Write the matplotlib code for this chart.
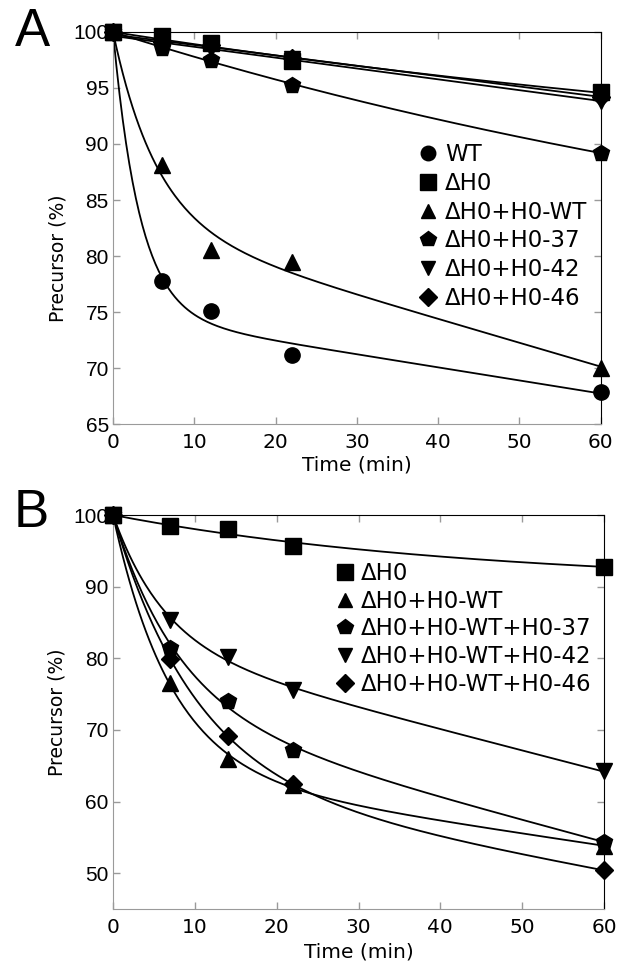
import numpy as np
import matplotlib.pyplot as plt

# Panel A data (time in min, precursor in %)
t_a = [0, 6, 12, 22, 60]
wt_a = [100, 77.8, 75.1, 71.2, 67.9]
dh0_a = [100, 99.6, 99.0, 97.4, 94.6]
h0wt_a = [100, 88.1, 80.5, 79.5, 70.0]
h037_a = [100, 98.6, 97.5, 95.3, 89.2]
h042_a = [100, 98.9, 98.6, 97.6, 93.8]
h046_a = [100, 99.1, 98.8, 97.7, 94.2]
labels_a = ['WT', 'ΔH0', 'ΔH0+H0-WT', 'ΔH0+H0-37', 'ΔH0+H0-42', 'ΔH0+H0-46']

# Panel B data
t_b = [0, 7, 14, 22, 60]
dh0_b = [100, 98.5, 98.0, 95.7, 92.8]
h0wt_b = [100, 76.6, 66.0, 62.3, 53.8]
h037_b = [100, 81.5, 74.1, 67.2, 54.4]
h042_b = [100, 85.4, 80.2, 75.6, 64.2]
h046_b = [100, 79.9, 69.1, 62.4, 50.4]
labels_b = ['ΔH0', 'ΔH0+H0-WT', 'ΔH0+H0-WT+H0-37', 'ΔH0+H0-WT+H0-42', 'ΔH0+H0-WT+H0-46']


def fit_curve(t, y):
    # least squares fit of y = 100 - A(1-exp(-k t)) - C t
    t = np.asarray(t, float)
    d = np.asarray(y, float) - 100
    best_sse, best = np.inf, None
    for k in np.logspace(-2.5, 1, 400):
        X = np.column_stack([-(1 - np.exp(-k * t)), -t])
        coef = np.linalg.lstsq(X, d, rcond=None)[0]
        if coef.min() < 0:
            continue
        sse = ((X @ coef - d) ** 2).sum()
        if sse < best_sse:
            best_sse, best = sse, (k, coef)
    if best is None:
        c = (d @ -t) / (t @ t)
        best = (1.0, np.array([0.0, c]))
    k, (a, c) = best
    tt = np.linspace(0, t.max(), 300)
    return tt, 100 - a * (1 - np.exp(-k * tt)) - c * tt


def style_axes(ax):
    for s in ['left', 'bottom']:
        ax.spines[s].set_color('#9a9a9a')
    for s in ['top', 'right']:
        ax.spines[s].set_color('black')
    ax.tick_params(direction='in', length=5, width=1, color='#9a9a9a',
                   top=True, right=True, pad=3)
    ax.tick_params(axis='x', labelsize=14.5, pad=6.5)
    ax.tick_params(axis='y', labelsize=15)
    for lab in ax.get_yticklabels():
        lab.set_family('Liberation Sans')
    ax.set_xlim(0, 60)
    ax.set_xticks(range(0, 61, 10))


fig = plt.figure(figsize=(6.44, 9.69), dpi=100)

# ---- Panel A ----
axA = fig.add_axes([0.1755, 0.5624, 0.757, 0.4046])
markers_a = ['o', 's', '^', 'p', 'v', 'D']
sizes_a = [11, 12, 11, 12, 11, 9.5]
series_a = [wt_a, dh0_a, h0wt_a, h037_a, h042_a, h046_a]
for y, m, ms, lab in zip(series_a, markers_a, sizes_a, labels_a):
    tt, yy = fit_curve(t_a, y)
    axA.plot(tt, yy, color='black', lw=1.3)
    axA.plot(t_a, y, linestyle='none', marker=m, ms=ms, color='black',
             label=lab, clip_on=False, zorder=3)
axA.set_ylim(65, 100)
axA.set_yticks(range(65, 101, 5))
style_axes(axA)
axA.set_xlabel('Time (min)', fontsize=14.5, labelpad=2.5)
axA.set_ylabel('Precursor (%)', fontsize=13.5)
axA.yaxis.set_label_coords(-0.094, 0.423)
axA.legend(loc='upper left', bbox_to_anchor=(0.627, 0.717), frameon=False,
           fontsize=16.5, handlelength=0.8, handletextpad=0.35,
           labelspacing=0.255, borderpad=0, borderaxespad=0, markerscale=0.95)

# ---- Panel B ----
axB = fig.add_axes([0.1755, 0.0619, 0.7624, 0.4066])
markers_b = ['s', '^', 'p', 'v', 'D']
sizes_b = [12, 11, 12, 11, 9.5]
series_b = [dh0_b, h0wt_b, h037_b, h042_b, h046_b]
for y, m, ms, lab in zip(series_b, markers_b, sizes_b, labels_b):
    tt, yy = fit_curve(t_b, y)
    axB.plot(tt, yy, color='black', lw=1.3)
    axB.plot(t_b, y, linestyle='none', marker=m, ms=ms, color='black',
             label=lab, clip_on=False, zorder=3)
axB.set_ylim(45, 100)
axB.set_yticks(range(50, 101, 10))
style_axes(axB)
axB.set_xlabel('Time (min)', fontsize=14.5, labelpad=4)
axB.set_ylabel('Precursor (%)', fontsize=13.5)
axB.yaxis.set_label_coords(-0.094, 0.5)
axB.legend(loc='upper left', bbox_to_anchor=(0.454, 0.881), frameon=False,
           fontsize=16.5, handlelength=0.8, handletextpad=0.3,
           labelspacing=0.205, borderpad=0, borderaxespad=0, markerscale=0.95)

fig.text(0.05, 0.967, 'A', fontsize=38, family='Liberation Sans', ha='center', va='center')
fig.text(0.048, 0.471, 'B', fontsize=38, family='Liberation Sans', ha='center', va='center')

fig.savefig('out.png', dpi=100)
